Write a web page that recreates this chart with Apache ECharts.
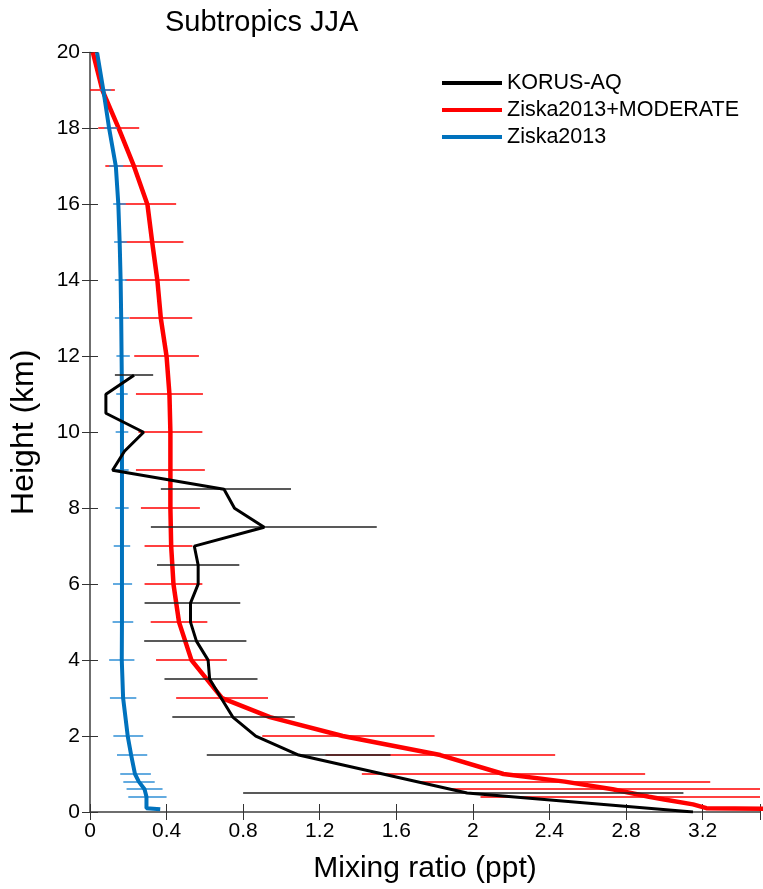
<!DOCTYPE html>
<html>
<head>
<meta charset="utf-8">
<script src="https://cdn.jsdelivr.net/npm/echarts@6/dist/echarts.min.js"></script>
<style>html,body{margin:0;padding:0;background:#fff}#c{width:763px;height:889px}</style>
</head>
<body>
<div id="c"></div>
<script>
// ---- data ----
const xTickLabels = ['0','0.4','0.8','1.2','1.6','2','2.4','2.8','3.2'];
const yTickLabels = ['0','2','4','6','8','10','12','14','16','18','20'];
const seriesNames = ['KORUS-AQ','Ziska2013+MODERATE','Ziska2013'];

// KORUS-AQ profile: heights (km) and mixing ratio (ppt)
const korusHeights = [11.5,11.0,10.5,10.0,9.5,9.0,8.5,8.0,7.5,7.0,6.5,6.0,5.5,5.0,4.5,4.0,3.5,3.0,2.5,2.0,1.5,1.0,0.5,0.0];
const korusValues  = [0.23,0.083,0.083,0.28,0.18,0.118,0.70,0.755,0.91,0.545,0.565,0.565,0.525,0.525,0.556,0.617,0.625,0.685,0.746,0.866,1.09,1.53,1.97,3.15];
// KORUS-AQ error bars
const korusErrHeights = [11.5,8.5,7.5,6.5,5.5,4.5,3.5,2.5,1.5,0.5];
const korusErrCenters = [0.23,0.71,0.908,0.565,0.535,0.55,0.632,0.75,1.09,1.95];
const korusErrHalf    = [0.10,0.34,0.59,0.215,0.25,0.267,0.243,0.32,0.48,1.15];

// Ziska2013+MODERATE profile
const modHeights = [20,19,18,17,16,15,14,13,12,11,10,9,8,7,6,5,4,3,2.5,2,1.5,1.0,0.8,0.6,0.4,0.33,0.2,0.1,0.07];
const modValues  = [0.015,0.065,0.15,0.23,0.30,0.325,0.352,0.37,0.40,0.415,0.42,0.42,0.42,0.424,0.436,0.465,0.53,0.69,0.94,1.32,1.83,2.16,2.48,2.73,2.92,3.0,3.15,3.22,3.9];
const modErrHeights = [19,18,17,16,15,14,13,12,11,10,9,8,7,6,5,4,3,2,1.5,1.0,0.8,0.6,0.4];
const modErrCenters = [0.065,0.15,0.23,0.30,0.325,0.352,0.37,0.40,0.415,0.42,0.42,0.42,0.41,0.436,0.465,0.53,0.69,1.35,1.83,2.16,2.48,2.73,2.92];
const modErrHalf    = [0.065,0.107,0.15,0.15,0.163,0.168,0.164,0.169,0.175,0.167,0.18,0.154,0.125,0.151,0.148,0.185,0.24,0.45,0.6,0.74,0.76,0.85,0.88];

// Ziska2013 profile
const ziskaHeights = [20,19,18,17,16,15,14,13,12,11,10,9,8,7,6,5,4,3,2,1.5,1.0,0.8,0.6,0.4,0.1,0.07];
const ziskaValues  = [0.037,0.07,0.10,0.135,0.148,0.155,0.16,0.163,0.165,0.167,0.167,0.167,0.167,0.167,0.167,0.167,0.166,0.173,0.197,0.215,0.235,0.255,0.285,0.295,0.295,0.367];
const ziskaErrHeights = [19,18,17,16,15,14,13,12,11,10,9,8,7,6,5,4,3,2,1.5,1.0,0.8,0.6,0.4];
const ziskaErrCenters = [0.081,0.109,0.137,0.154,0.159,0.161,0.167,0.173,0.167,0.167,0.167,0.167,0.167,0.17,0.172,0.166,0.173,0.2,0.22,0.238,0.256,0.285,0.3];
const ziskaErrHalf    = [0.028,0.034,0.037,0.033,0.033,0.031,0.037,0.035,0.03,0.033,0.035,0.035,0.043,0.05,0.054,0.066,0.069,0.078,0.079,0.08,0.082,0.094,0.1];

const colors = {korus:'#000000', mod:'#ff0000', ziska:'#0072bd', ziskaBar:'#2f8fd6', korusBar:'#222222'};

// ---- build ----
function pairs(h, v){ return h.map((y,i)=>[v[i], y]); }
function errData(h, c, w){ return h.map((y,i)=>[c[i]-w[i], c[i]+w[i], y]); }
function errSeries(name, data, color, z){
  return {
    type:'custom', name:name, z:z, silent:true,
    data:data,
    encode:{x:[0,1], y:2},
    itemStyle:{color:color},
    renderItem:function(params, api){
      const p1 = api.coord([api.value(0), api.value(2)]);
      const p2 = api.coord([api.value(1), api.value(2)]);
      const cs = params.coordSys;
      const x1 = Math.max(p1[0], cs.x), x2 = Math.min(p2[0], cs.x + cs.width);
      const y = Math.round(p1[1]);
      return {type:'line', shape:{x1:x1, y1:y, x2:x2, y2:y},
              style:{stroke:color, fill:null, lineWidth:1.5}};
    }
  };
}
function lineSeries(name, data, color, width, z){
  return {type:'line', name:name, data:data, showSymbol:false, symbol:'none',
          z:z, clip:true, animation:false,
          lineStyle:{color:color, width:width}, itemStyle:{color:color}};
}

const xTickVals = xTickLabels.map(Number);
const font = 'Liberation Sans, Arial, sans-serif';

const chart = echarts.init(document.getElementById('c'), null, {renderer:'canvas'});
chart.setOption({
  animation:false,
  backgroundColor:'#fff',
  title:{text:'Subtropics JJA', left:160, top:3,
         textStyle:{fontFamily:font, fontSize:29, fontWeight:'normal', color:'#000'}},
  legend:{
    data:seriesNames.map(n=>({name:n, icon:'rect'})),
    orient:'vertical', left:442, top:72, padding:0, itemWidth:60, itemHeight:4, itemGap:5,
    textStyle:{fontFamily:font, fontSize:21.5, color:'#000'}
  },
  grid:{left:85.5, right:0, top:52.5, bottom:76.5},
  xAxis:[{
    type:'value', min:0, max:3.5, interval:0.4, position:'bottom',
    name:'Mixing ratio (ppt)', nameLocation:'middle', nameGap:42,
    nameTextStyle:{fontFamily:font, fontSize:30, color:'#000'},
    axisLine:{show:true, lineStyle:{color:'#666', width:1.5}},
    axisTick:{show:true, inside:true, length:8, lineStyle:{color:'#333', width:1}},
    axisLabel:{fontFamily:font, fontSize:21, color:'#000', margin:9,
      formatter:function(v){ const i = xTickVals.findIndex(t=>Math.abs(t-v)<1e-6); return i>=0 ? xTickLabels[i] : ''; }},
    splitLine:{show:false}
  },{
    type:'value', min:0, max:3.5, interval:0.4, position:'top',
    axisLine:{show:true, lineStyle:{color:'#666', width:1.5}},
    axisTick:{show:true, inside:true, length:8, lineStyle:{color:'#333', width:1}},
    axisLabel:{show:false}, splitLine:{show:false}
  }],
  yAxis:[{
    type:'value', min:0, max:20, interval:2, position:'left',
    name:'Height (km)', nameLocation:'middle', nameGap:50,
    nameTextStyle:{fontFamily:font, fontSize:32, color:'#000'},
    axisLine:{show:true, lineStyle:{color:'#666', width:1.5}},
    axisTick:{show:true, inside:true, length:8, lineStyle:{color:'#333', width:1}},
    axisLabel:{fontFamily:font, fontSize:21, color:'#000', margin:10,
      formatter:function(v){ const i = yTickLabels.indexOf(String(v)); return i>=0 ? yTickLabels[i] : ''; }},
    splitLine:{show:false}
  },{
    type:'value', min:0, max:20, interval:2, position:'right',
    axisLine:{show:true, lineStyle:{color:'#666', width:1.5}},
    axisTick:{show:true, inside:true, length:8, lineStyle:{color:'#333', width:1}},
    axisLabel:{show:false}, splitLine:{show:false}
  }],
  series:[
    lineSeries(seriesNames[0], pairs(korusHeights, korusValues), colors.korus, 3, 6),
    lineSeries(seriesNames[1], pairs(modHeights, modValues), colors.mod, 4.5, 2),
    lineSeries(seriesNames[2], pairs(ziskaHeights, ziskaValues), colors.ziska, 4, 4),
    errSeries('modErr', errData(modErrHeights, modErrCenters, modErrHalf), colors.mod, 1),
    errSeries('ziskaErr', errData(ziskaErrHeights, ziskaErrCenters, ziskaErrHalf), colors.ziskaBar, 3),
    errSeries('korusErr', errData(korusErrHeights, korusErrCenters, korusErrHalf), colors.korusBar, 5)
  ]
});
</script>
</body>
</html>
